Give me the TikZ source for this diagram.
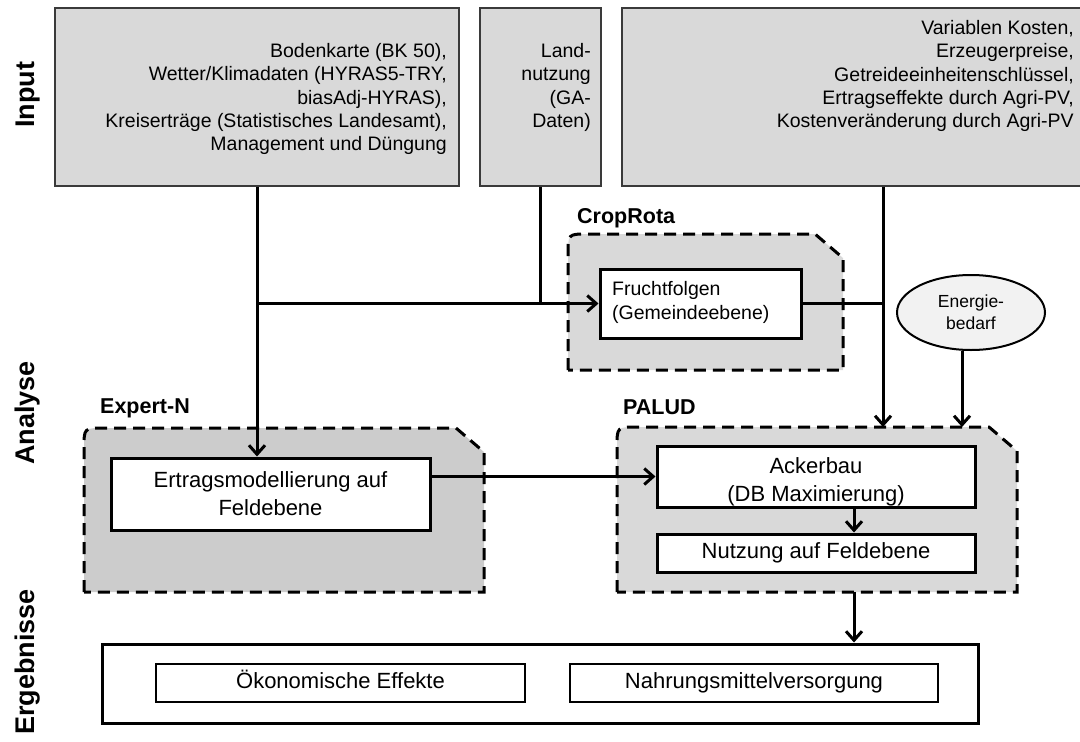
\documentclass[tikz,border=0pt]{standalone}
\usepackage{fontspec}
\setmainfont{Liberation Sans}
\usepackage{tikz}
\usetikzlibrary{arrows.meta,shapes,positioning}

\definecolor{inputgray}{HTML}{D9D9D9}
\definecolor{expgray}{HTML}{CCCCCC}
\definecolor{lightfill}{HTML}{F2F2F2}
\definecolor{edgegray}{HTML}{3A3A3A}

\tikzset{
  inbox/.style={draw=edgegray, line width=1.7pt, fill=inputgray, inner sep=0pt},
  intext/.style={inner sep=0pt, align=right, font=\fontsize{19.5}{23.4}\selectfont},
  whitebox/.style={draw, line width=3pt, fill=white, inner sep=0pt, align=center, font=\fontsize{22}{28}\selectfont},
  boxtext/.style={inner sep=0pt, align=center, font=\fontsize{22}{28}\selectfont},
  modframe/.style={draw, line width=3pt, dash pattern=on 12pt off 7pt},
  flow/.style={line width=3pt, -{Straight Barb[length=9pt,width=16pt]}},
  plainline/.style={line width=3pt},
  sidelabel/.style={rotate=90, font=\bfseries\fontsize{27}{30}\selectfont},
  grouplabel/.style={anchor=base west, inner sep=0pt, font=\bfseries\fontsize{21.5}{24}\selectfont},
}

\newcommand{\modarea}[5]{%
  \filldraw[modframe, fill=#5] (#1,#4) -- (#1,#2+20) .. controls (#1,#2) .. (#1+20,#2)
    -- (#3-28,#2) -- (#3,#2+24) -- (#3,#4) -- cycle;}

\begin{document}
\begin{tikzpicture}[x=1pt, y=-1pt]
    \useasboundingbox (0,0) rectangle (1080,742);

    \node[inbox, minimum width=404pt, minimum height=178pt] (soil) at (257,97) {};
    \node[intext, anchor=north east] (soiltext) at (447,43) {Bodenkarte (BK 50),\\Wetter/Klimadaten (HYRAS5-TRY,\\biasAdj-HYRAS),\\Kreiserträge (Statistisches Landesamt),\\Management und Düngung};

    \node[inbox, minimum width=121pt, minimum height=178pt] (land) at (540.5,97) {};
    \node[intext, anchor=north east] (landtext) at (591,43) {Land-\\nutzung\\(GA-\\Daten)};

    \node[inbox, minimum width=464pt, minimum height=178pt] (cost) at (854,97) {};
    \node[intext, anchor=north east] (costtext) at (1074,20) {Variablen Kosten,\\Erzeugerpreise,\\Getreideeinheitenschlüssel,\\Ertragseffekte durch Agri-PV,\\Kostenveränderung durch Agri-PV};

    \node[sidelabel] (lin) at (28,95) {Input};
    \node[sidelabel] (lana) at (28,413) {Analyse};
    \node[sidelabel] (lerg) at (28,662) {Ergebnisse};

    \modarea{568}{234}{843}{370}{inputgray}
    \modarea{84}{428}{484}{592}{expgray}
    \modarea{617}{427}{1017}{592}{inputgray}

    \node[grouplabel] (gcrop) at (577,223) {CropRota};
    \node[grouplabel] (gexp) at (100,413) {Expert-N};
    \node[grouplabel] (gpal) at (623,414) {PALUD};

    \node[whitebox, minimum width=201pt, minimum height=69pt] (frucht) at (700.5,303.5) {};
    \node[inner sep=0pt, anchor=north west, align=left, font=\fontsize{19.5}{24}\selectfont] (fruchttext) at (612,281) {Fruchtfolgen\\(Gemeindeebene)};

    \node[ellipse, draw, line width=2pt, fill=lightfill, minimum width=148pt, minimum height=75pt, inner sep=0pt, align=center, font=\fontsize{17.5}{22}\selectfont] (energie) at (971,312.5) {Energie-\\bedarf};

    \node[whitebox, minimum width=319pt, minimum height=72pt] (ertrag) at (270.5,494) {Ertragsmodellierung auf\\Feldebene};

    \node[whitebox, minimum width=318pt, minimum height=61pt] (acker) at (816,476.5) {};
    \node[boxtext] (ackertext) at ([yshift=-5pt]acker.center) {Ackerbau\\(DB Maximierung)};
    \node[whitebox, minimum width=318pt, minimum height=38pt] (nutz) at (816,553) {Nutzung auf Feldebene};

    \node[whitebox, minimum width=876pt, minimum height=79pt] (result) at (540,683.5) {};
    \node[whitebox, line width=2.6pt, text height=15pt, text depth=5pt, minimum width=369pt, minimum height=38pt] (oeko) at (340.5,683) {Ökonomische Effekte};
    \node[whitebox, line width=2.6pt, text height=15pt, text depth=5pt, minimum width=368pt, minimum height=38pt] (nahr) at (754,683) {Nahrungsmittelversorgung};

    \coordinate (kdrop) at (883,0);
    \coordinate (outx) at (854,0);
    \coordinate (paludtop) at (817,427);
    \coordinate (paludbot) at (817,592);

    \draw[flow] (soil.south) -- (soil.south |- ertrag.north);
    \draw[plainline] (land.south) -- (land.south |- frucht.west);
    \draw[flow] (soil.south |- frucht.west) -- (frucht.west);
    \draw[plainline] (frucht.east) -- (kdrop |- frucht.east);
    \draw[flow] (kdrop |- cost.south) -- (kdrop |- paludtop);
    \draw[flow] ([xshift=-9pt]energie.south) -- ([xshift=-9pt]energie.south |- paludtop);
    \draw[flow] (ertrag.east |- acker.west) -- (acker.west);
    \draw[flow] (outx |- acker.south) -- (outx |- nutz.north);
    \draw[flow] (outx |- paludbot) -- (outx |- result.north);
\end{tikzpicture}
\end{document}
